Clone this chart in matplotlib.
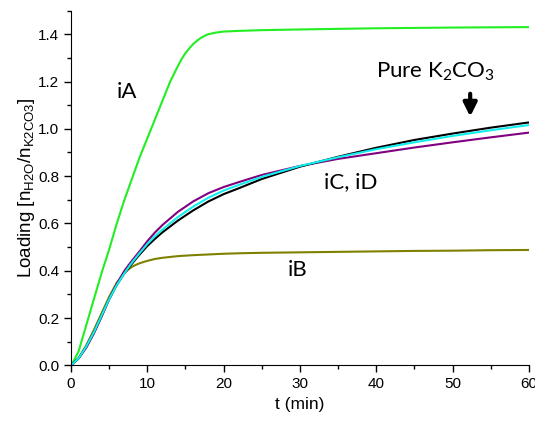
import matplotlib
matplotlib.use('Agg')
import matplotlib.pyplot as plt
from matplotlib.ticker import MultipleLocator

plt.rcParams['font.family'] = ['Liberation Sans', 'DejaVu Sans']

# Data
t_A = [0, 0.3, 1, 2, 3, 4, 5, 6, 7, 8, 9, 10, 11, 12, 13, 14, 14.5, 15, 15.5, 16, 16.5, 17, 17.5, 18, 19, 20, 22, 25, 30, 40, 50, 60]
iA = [0, 0.016, 0.06, 0.17, 0.28, 0.39, 0.49, 0.60, 0.70, 0.79, 0.88, 0.96, 1.04, 1.12, 1.20, 1.265, 1.295, 1.32, 1.34, 1.358, 1.372, 1.384, 1.393, 1.40, 1.407, 1.411, 1.414, 1.417, 1.42, 1.425, 1.428, 1.43]

t = [0, 0.3, 1, 2, 3, 4, 5, 6, 7, 7.5, 8, 8.5, 9, 10, 11, 12, 14, 16, 18, 20, 22, 25, 30, 35, 40, 45, 50, 55, 60]
iB = [0, 0.01, 0.03, 0.085, 0.15, 0.22, 0.29, 0.35, 0.39, 0.405, 0.417, 0.425, 0.432, 0.442, 0.45, 0.455, 0.462, 0.466, 0.469, 0.472, 0.474, 0.476, 0.478, 0.48, 0.482, 0.484, 0.485, 0.487, 0.488]
iC = [0, 0.01, 0.03, 0.08, 0.14, 0.21, 0.28, 0.34, 0.39, 0.413, 0.435, 0.455, 0.475, 0.513, 0.546, 0.575, 0.627, 0.671, 0.709, 0.739, 0.763, 0.797, 0.843, 0.88, 0.914, 0.943, 0.97, 0.994, 1.016]
iD = [0, 0.01, 0.03, 0.075, 0.135, 0.205, 0.28, 0.345, 0.40, 0.422, 0.443, 0.463, 0.483, 0.525, 0.562, 0.594, 0.649, 0.693, 0.728, 0.754, 0.775, 0.805, 0.843, 0.873, 0.897, 0.921, 0.943, 0.964, 0.984]
pure = [0, 0.01, 0.03, 0.08, 0.14, 0.21, 0.28, 0.34, 0.39, 0.41, 0.43, 0.45, 0.469, 0.505, 0.535, 0.563, 0.612, 0.655, 0.693, 0.724, 0.749, 0.788, 0.84, 0.882, 0.92, 0.953, 0.98, 1.005, 1.027]

fig = plt.figure(figsize=(5.35, 4.21), dpi=100)
ax = fig.add_axes([0.1327, 0.132, 0.856, 0.843])

ax.plot(t_A, iA, color='#22ee22', lw=1.5)
ax.plot(t, iB, color='#808000', lw=1.5)
ax.plot(t, iD, color='#800080', lw=1.5)
ax.plot(t, pure, color='black', lw=1.5)
ax.plot(t, iC, color='#11eeee', lw=1.5)

ax.set_xlim(0, 60)
ax.set_ylim(0, 1.5)
ax.spines['top'].set_visible(False)
ax.spines['right'].set_visible(False)
ax.xaxis.set_major_locator(MultipleLocator(10))
ax.xaxis.set_minor_locator(MultipleLocator(5))
ax.yaxis.set_minor_locator(MultipleLocator(0.1))
ax.set_yticks([0, 0.2, 0.4, 0.6, 0.8, 1.0, 1.2, 1.4])
ax.set_yticklabels(['0.0', '0.2', '0.4', '0.6', '0.8', '1.0', '1.2', '1.4'])
ax.tick_params(which='major', direction='out', length=5, width=1, labelsize=11)
ax.tick_params(which='minor', direction='out', length=3, width=1)

ax.set_xlabel('t (min)', fontsize=12.5, labelpad=4)
ax.set_ylabel('Loading [n$_{\\mathregular{H2O}}$/n$_{\\mathregular{K2CO3}}$]',
              fontsize=13.5, labelpad=1)

lbl = dict(fontsize=16, family='Lato', ha='center', va='center')
ax.text(7.3, 1.156, 'iA', **lbl)
ax.text(36.6, 0.776, 'iC, iD', **lbl)
ax.text(29.7, 0.403, 'iB', **lbl)
ax.text(47.7, 1.24, 'Pure K$_{\\mathregular{2}}$CO$_{\\mathregular{3}}$', **lbl)
ax.annotate('', xy=(52.3, 1.04), xytext=(52.3, 1.16),
            arrowprops=dict(arrowstyle='-|>', color='black', lw=3, mutation_scale=20))

plt.savefig('out.png', dpi=100)
print("Created out.png")
